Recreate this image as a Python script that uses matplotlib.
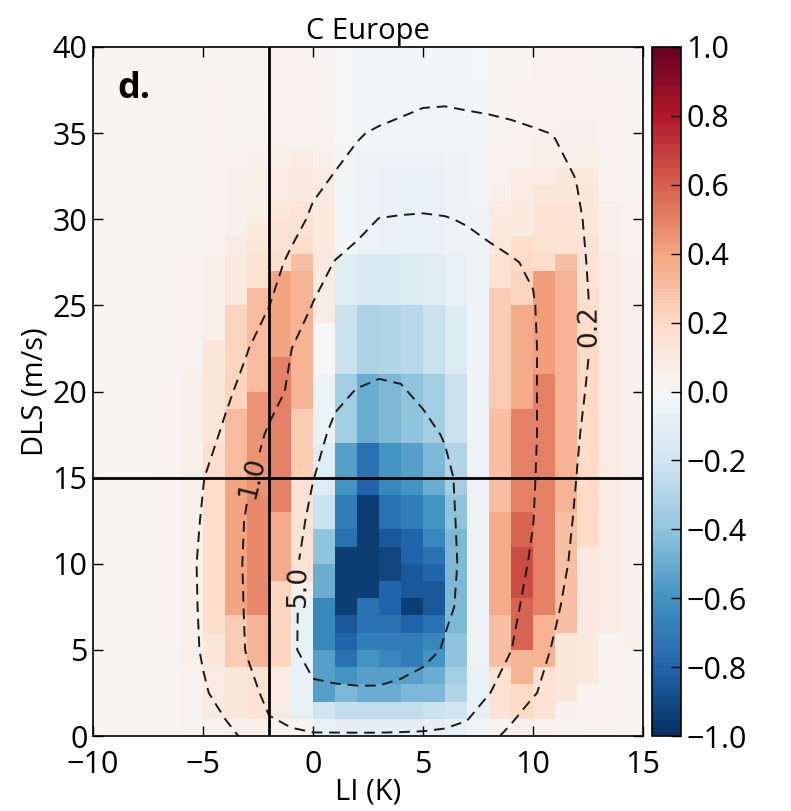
import numpy as np
import matplotlib
matplotlib.use('Agg')
import matplotlib.pyplot as plt

plt.rcParams['font.family'] = ['Open Sans', 'DejaVu Sans']

# cell edges of the LI / DLS grid (1 K x 1 m/s bins)
li_edges = np.arange(-10, 16)
dls_edges = np.arange(0, 41)

# correlation per bin, in hundredths; one string per DLS row, from 0 m/s upwards,
# columns LI = -10 ... 14
corr_rows = [
    "2 2 2 2 3 3 5 5 3 2 -8 -10 -10 -10 -10 -10 -8 -3 3 5 4 2 3 3 2",
    "2 2 2 2 3 8 12 15 8 -8 -20 -25 -25 -25 -25 -22 -20 -8 15 20 15 5 3 3 2",
    "2 2 2 2 3 8 12 15 8 -8 -55 -45 -50 -50 -45 -45 -30 -8 15 20 15 12 3 3 2",
    "2 2 2 2 3 8 12 15 8 -8 -55 -60 -55 -55 -55 -50 -35 -8 15 35 15 12 10 3 2",
    "2 2 2 2 6 12 25 35 22 -8 -55 -75 -60 -65 -70 -60 -40 -6 30 35 35 12 10 3 2",
    "2 2 2 3 6 12 25 35 22 -8 -65 -80 -70 -70 -70 -65 -40 -6 30 58 35 12 10 3 5",
    "2 2 2 3 6 18 25 35 22 -8 -65 -85 -75 -75 -80 -75 -45 -6 30 58 35 30 10 8 5",
    "2 2 2 3 6 18 40 48 22 -8 -65 -95 -75 -80 -95 -85 -45 -6 38 58 50 30 10 8 5",
    "2 2 2 3 6 18 40 48 22 5 -50 -95 -95 -80 -85 -85 -45 -6 38 65 50 30 10 8 5",
    "2 2 2 3 6 18 40 48 38 15 -50 -95 -95 -92 -85 -80 -45 -6 38 65 50 30 10 8 5",
    "2 2 2 3 6 18 40 48 38 15 -40 -95 -95 -92 -80 -75 -45 -6 38 65 50 30 10 8 5",
    "2 2 2 3 6 18 40 48 38 15 -40 -75 -95 -85 -80 -65 -45 -6 38 58 50 30 20 8 5",
    "2 2 2 3 6 18 40 48 38 15 -22 -70 -95 -75 -70 -60 -40 -6 38 58 50 30 20 8 5",
    "2 2 2 3 6 18 40 48 50 15 -22 -70 -95 -75 -70 -60 -40 -6 30 50 50 35 20 8 5",
    "2 2 2 3 6 18 40 45 50 15 -12 -60 -80 -65 -60 -50 -35 -6 30 50 50 35 20 8 5",
    "2 2 2 3 6 18 32 45 50 25 -12 -55 -75 -60 -55 -45 -30 -6 30 50 50 35 20 8 5",
    "2 2 2 3 6 18 32 45 50 25 -12 -55 -75 -60 -55 -45 -30 -6 30 50 50 35 20 8 5",
    "2 2 2 3 6 12 32 45 50 25 -5 -35 -50 -45 -40 -35 -22 -6 30 50 50 35 20 8 5",
    "2 2 2 3 6 12 32 45 50 25 -5 -35 -50 -45 -40 -35 -22 -6 30 50 50 35 20 8 5",
    "2 2 2 3 6 12 22 45 50 35 -5 -35 -50 -45 -40 -35 -22 -6 25 38 50 35 20 8 5",
    "2 2 2 3 6 12 22 32 50 35 -5 -35 -50 -45 -40 -35 -22 -6 25 38 50 35 20 8 5",
    "2 2 2 2 4 12 22 32 50 35 0 -22 -32 -30 -28 -22 -14 -4 25 38 42 35 20 8 5",
    "2 2 2 2 4 12 22 32 40 35 0 -22 -32 -30 -28 -22 -14 -4 25 38 42 35 20 8 5",
    "2 2 2 2 4 6 22 32 40 35 0 -22 -32 -30 -28 -22 -14 -4 25 38 42 35 18 8 5",
    "2 2 2 2 4 6 22 32 40 35 8 -22 -32 -30 -28 -22 -14 -4 25 38 42 35 18 8 5",
    "2 2 2 2 4 6 10 32 40 35 8 -12 -15 -15 -14 -12 -8 -4 25 22 42 35 18 8 5",
    "2 2 2 2 4 6 10 15 40 35 8 -12 -15 -15 -14 -12 -8 -4 15 22 42 35 15 8 5",
    "2 2 2 2 4 6 10 15 18 30 10 -12 -15 -15 -14 -12 -8 -4 15 20 18 30 15 8 5",
    "2 2 2 2 2 3 8 12 15 18 10 -2 -6 -7 -8 -7 -5 -4 12 18 15 15 15 6 4",
    "2 2 2 2 2 3 5 10 15 15 10 -2 -6 -7 -8 -7 -5 -4 10 10 15 15 12 6 4",
    "2 2 2 2 2 3 5 6 12 14 10 -2 -6 -7 -8 -7 -5 -4 8 10 15 15 12 6 4",
    "2 2 2 2 2 3 5 6 8 10 10 -2 -6 -7 -8 -7 -5 -2 5 8 12 12 12 3 2",
    "2 2 2 2 2 3 5 6 8 10 8 -2 -6 -7 -8 -7 -5 -2 4 8 8 12 10 3 2",
    "2 2 2 2 2 3 4 5 6 8 5 -2 -5 -6 -6 -5 -4 -2 4 4 6 6 6 3 2",
    "2 2 2 2 2 3 2 3 4 4 4 0 -2 -3 -3 -3 -2 -2 3 4 6 5 5 3 2",
    "2 2 2 2 2 3 2 3 4 4 3 0 -2 -3 -3 -3 -2 -2 2 3 3 5 5 3 2",
    "2 2 2 2 2 3 2 3 3 3 2 0 -2 -3 -3 -3 -2 -2 2 3 3 3 3 3 2",
    "2 2 2 2 2 3 2 3 3 3 2 0 -2 -3 -3 -3 -2 -2 2 3 3 3 3 3 2",
    "2 2 2 2 2 2 2 2 3 3 2 0 -2 -2 -2 -2 -2 -1 2 2 3 3 3 2 2",
    "2 2 2 2 2 2 2 2 3 3 2 0 -2 -2 -2 -2 -2 -1 2 2 3 3 3 2 2",
]
corr = np.array([[int(v) for v in r.split()] for r in corr_rows]) / 100.0

# log10 of the occurrence frequency (%), LI = -10 ... 15, DLS = 0, 2.5, ... 40
li_nodes = np.arange(-10, 16)
dls_nodes = np.arange(0, 40.1, 2.5)
log_freq = np.array([
    [-2.8, -2.6, -2.3, -2.0, -1.7, -1.05, -0.85, -0.6, -0.11, -0.08, -0.05, -0.05, -0.05,
     -0.05, -0.05, -0.05, -0.08, -0.12, -0.55, -0.85, -1.3, -1.7, -2.0, -2.3, -2.55, -2.8],
    [-2.6, -2.35, -2.05, -1.7, -1.3, -0.78, -0.47, -0.16, 0.12, 0.33, 0.55, 0.58, 0.6,
     0.6, 0.5, 0.4, 0.38, 0.22, 0.02, -0.3, -0.63, -1.0, -1.35, -1.7, -2.05, -2.4],
    [-2.4, -2.1, -1.8, -1.44, -1.05, -0.63, -0.31, 0.03, 0.3, 0.58, 1.0, 1.12, 1.18,
     1.18, 1.1, 0.9, 0.64, 0.42, 0.2, 0.01, -0.4, -0.78, -1.1, -1.45, -1.8, -2.1],
    [-2.35, -2.05, -1.72, -1.38, -1.0, -0.6, -0.27, 0.05, 0.32, 0.6, 0.92, 1.1, 1.18,
     1.18, 1.1, 0.98, 0.8, 0.56, 0.32, 0.1, -0.15, -0.6, -1.0, -1.35, -1.7, -2.0],
    [-2.3, -2.0, -1.6, -1.28, -0.94, -0.6, -0.26, 0.07, 0.34, 0.61, 0.87, 1.05, 1.15,
     1.15, 1.08, 0.95, 0.8, 0.62, 0.41, 0.19, -0.06, -0.46, -0.86, -1.25, -1.6, -1.9],
    [-2.3, -2.0, -1.65, -1.33, -1.0, -0.65, -0.33, 0.05, 0.3, 0.55, 0.78, 0.96, 1.05,
     1.06, 1.0, 0.9, 0.78, 0.61, 0.41, 0.2, 0.01, -0.38, -0.78, -1.15, -1.5, -1.85],
    [-2.3, -2.0, -1.7, -1.35, -1.04, -0.72, -0.39, -0.07, 0.2, 0.45, 0.69, 0.85, 0.95,
     0.96, 0.92, 0.85, 0.76, 0.6, 0.42, 0.23, 0.04, -0.31, -0.71, -1.08, -1.45, -1.8],
    [-2.4, -2.15, -1.85, -1.55, -1.25, -0.95, -0.6, -0.27, 0.07, 0.33, 0.6, 0.76, 0.84,
     0.86, 0.83, 0.77, 0.68, 0.53, 0.38, 0.22, 0.06, -0.27, -0.65, -1.0, -1.38, -1.72],
    [-2.5, -2.3, -2.0, -1.7, -1.4, -1.13, -0.82, -0.5, -0.2, 0.08, 0.35, 0.64, 0.71,
     0.74, 0.72, 0.65, 0.55, 0.45, 0.33, 0.2, 0.05, -0.23, -0.57, -0.92, -1.3, -1.65],
    [-2.65, -2.45, -2.2, -1.9, -1.62, -1.35, -1.05, -0.73, -0.38, -0.01, 0.27, 0.45, 0.56,
     0.6, 0.6, 0.56, 0.49, 0.4, 0.29, 0.17, 0.05, -0.22, -0.5, -0.85, -1.2, -1.55],
    [-2.8, -2.6, -2.4, -2.1, -1.85, -1.6, -1.3, -1.0, -0.71, -0.35, 0.02, 0.25, 0.38,
     0.45, 0.47, 0.45, 0.4, 0.32, 0.22, 0.12, 0.03, -0.26, -0.54, -0.83, -1.15, -1.5],
    [-2.9, -2.72, -2.52, -2.25, -2.0, -1.72, -1.42, -1.12, -0.86, -0.62, -0.25, 0.02, 0.15,
     0.22, 0.25, 0.25, 0.22, 0.16, 0.09, 0.03, -0.05, -0.32, -0.58, -0.86, -1.2, -1.55],
    [-3.0, -2.85, -2.65, -2.4, -2.15, -1.85, -1.55, -1.25, -0.98, -0.85, -0.63, -0.38, -0.15,
     0.01, 0.03, 0.04, 0.02, -0.03, -0.1, -0.18, -0.28, -0.42, -0.63, -0.9, -1.25, -1.6],
    [-3.1, -2.98, -2.8, -2.6, -2.35, -2.05, -1.75, -1.45, -1.18, -0.98, -0.8, -0.68, -0.5,
     -0.35, -0.28, -0.25, -0.26, -0.3, -0.35, -0.4, -0.46, -0.55, -0.72, -0.95, -1.28, -1.6],
    [-3.2, -3.1, -2.95, -2.75, -2.5, -2.2, -1.9, -1.6, -1.35, -1.1, -0.95, -0.85, -0.75,
     -0.62, -0.55, -0.5, -0.5, -0.52, -0.56, -0.6, -0.64, -0.72, -0.8, -1.0, -1.3, -1.6],
    [-3.35, -3.25, -3.12, -2.92, -2.7, -2.45, -2.2, -1.95, -1.72, -1.52, -1.4, -1.32, -1.25,
     -1.1, -0.95, -0.84, -0.82, -0.86, -0.88, -0.92, -1.07, -1.26, -1.4, -1.6, -1.85, -2.1],
    [-3.5, -3.4, -3.3, -3.1, -2.9, -2.7, -2.5, -2.3, -2.1, -1.95, -1.85, -1.8, -1.75,
     -1.6, -1.35, -1.17, -1.15, -1.2, -1.2, -1.25, -1.5, -1.8, -2.0, -2.2, -2.4, -2.6],
])
freq_levels = [0.2, 1.0, 5.0]
label_spots = [(12.45, 23.8), (-2.8, 15.0), (-1.0, 8.7)]

li_thresh = -2
dls_thresh = 15

fig = plt.figure(figsize=(7.91, 8.11), dpi=100)
ax = fig.add_axes([93 / 791, 75 / 811, 550 / 791, 689 / 811])

mesh = ax.pcolormesh(li_edges, dls_edges, corr, cmap='RdBu_r', vmin=-1, vmax=1)

cs = ax.contour(li_nodes, dls_nodes, log_freq, levels=np.log10(freq_levels),
                colors='#1a1a1a', linewidths=1.4, linestyles=[(0, (5.5, 3.5))])
labels = ax.clabel(cs, fmt={lev: f'{v:.1f}' for lev, v in zip(cs.levels, freq_levels)},
                   manual=label_spots, fontsize=19, inline=True, inline_spacing=8)
for t in labels:
    t.set_family('DejaVu Sans')
    # near-vertical labels read bottom-to-top
    rot = t.get_rotation() % 360
    if rot > 180:
        t.set_rotation(rot - 180)

ax.axvline(li_thresh, color='k', lw=2.0)
ax.axhline(dls_thresh, color='k', lw=2.0)

ax.set_xlim(-10, 15)
ax.set_ylim(0, 40)
ax.set_xticks(np.arange(-10, 16, 5))
ax.set_yticks(np.arange(0, 41, 5))
ax.tick_params(direction='in', top=True, right=True, length=7, width=1, labelsize=22, pad=4)
ax.tick_params(axis='x', pad=10)
for s in ax.spines.values():
    s.set_linewidth(1.2)

ax.set_title('C Europe', fontsize=21, pad=6)
ax.set_xlabel('LI (K)', fontsize=21, labelpad=-2)
ax.set_ylabel('DLS (m/s)', fontsize=21, labelpad=2)
ax.text(0.045, 0.965, 'd.', transform=ax.transAxes, fontsize=26, fontweight='bold',
        va='top', ha='left')

cax = fig.add_axes([652 / 791, 75 / 811, 29 / 791, 689 / 811])
cb = fig.colorbar(mesh, cax=cax, ticks=np.round(np.linspace(-1, 1, 11), 1))
cb.ax.tick_params(direction='in', length=7, width=1, labelsize=22, pad=4)
cb.outline.set_linewidth(1.2)

fig.savefig('out.png', dpi=100)
